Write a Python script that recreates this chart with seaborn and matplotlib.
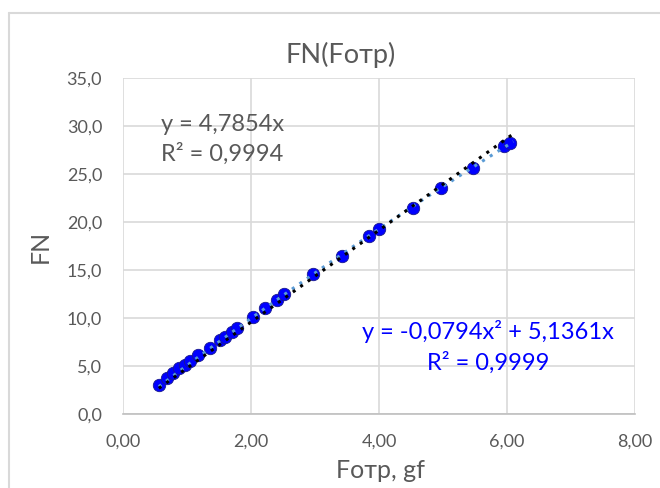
import numpy as np
import pandas as pd
import matplotlib
matplotlib.use("Agg")
import matplotlib.pyplot as plt
import seaborn as sns
from matplotlib.lines import Line2D

# Data
f_otr = [0.56, 0.68, 0.78, 0.88, 0.97, 1.05, 1.17, 1.36, 1.52, 1.59, 1.70, 1.78,
         2.03, 2.22, 2.40, 2.52, 2.97, 3.42, 3.84, 4.00, 4.53, 4.97, 5.47, 5.95, 6.05]
fn = [3.0, 3.7, 4.3, 4.8, 5.1, 5.5, 6.1, 6.9, 7.7, 8.0, 8.5, 9.0,
      10.1, 11.0, 11.9, 12.5, 14.6, 16.5, 18.5, 19.3, 21.5, 23.5, 25.6, 27.9, 28.2]
lin_coef = 4.7854
poly_coefs = [-0.0794, 5.1361]
x_ticks = [0, 2, 4, 6, 8]
x_tick_labels = ["0,00", "2,00", "4,00", "6,00", "8,00"]
y_ticks = [0, 5, 10, 15, 20, 25, 30, 35]
y_tick_labels = ["0,0", "5,0", "10,0", "15,0", "20,0", "25,0", "30,0", "35,0"]

sns.set_theme(style="white")
plt.rcParams['font.family'] = ['Lato', 'DejaVu Sans']

W, H = 660, 488
fig = plt.figure(figsize=(6.6, 4.88), dpi=100)
ax = fig.add_axes([123 / W, 1 - 414 / H, 512 / W, 336 / H])

df = pd.DataFrame({"x": f_otr, "y": fn})
sns.scatterplot(data=df, x="x", y="y", ax=ax, color="#0000FF", s=80,
                edgecolor="#1a1a8c", linewidth=0.6, zorder=3)

xs = np.linspace(min(f_otr), max(f_otr) + 0.05, 100)
trend = pd.DataFrame({"x": xs,
                      "lin": lin_coef * xs,
                      "poly": poly_coefs[0] * xs**2 + poly_coefs[1] * xs})
sns.lineplot(data=trend, x="x", y="poly", ax=ax, color="#5B9BD5",
             linestyle=(0, (1, 2)), linewidth=2.2, zorder=4)
sns.lineplot(data=trend, x="x", y="lin", ax=ax, color="black",
             linestyle=(0, (1, 2)), linewidth=2.2, zorder=5)

ax.set_xlim(0, 8)
ax.set_ylim(0, 35)
ax.set_xticks(x_ticks)
ax.set_xticklabels(x_tick_labels)
ax.set_yticks(y_ticks)
ax.set_yticklabels(y_tick_labels)
ax.tick_params(axis="y", labelsize=13, colors="#595959", length=0, pad=15)
ax.tick_params(axis="x", labelsize=13, colors="#595959", length=0, pad=14)
ax.grid(True, color="#D9D9D9", linewidth=1.2)
ax.set_axisbelow(True)
for side in ["top", "right", "left"]:
    ax.spines[side].set_visible(False)
ax.spines["bottom"].set_color("#BFBFBF")
ax.spines["bottom"].set_linewidth(1.2)

ax.set_xlabel("Fотр, gf", fontsize=18, color="#595959", va="center")
ax.xaxis.set_label_coords((380 - 123) / 512, -(470 - 414) / 336)
ax.set_ylabel("FN", fontsize=18, color="#595959", va="center")
ax.yaxis.set_label_coords(-(123 - 40) / 512, 0.5)
fig.text(341 / W, 1 - 55 / H, "FN(Fотр)", fontsize=19.5, color="#595959",
         ha="center", va="center")

ax.text(0.59, 30.2, "y = 4,7854x", fontsize=17, color="#595959",
        ha="left", va="center")
ax.text(0.59, 27.1, "R² = 0,9994", fontsize=17, color="#595959",
        ha="left", va="center")
ax.text(5.70, 8.55, "y = -0,0794x² + 5,1361x", fontsize=17, color="#0000FF",
        ha="center", va="center")
ax.text(5.70, 5.3, "R² = 0,9999", fontsize=17, color="#0000FF",
        ha="center", va="center")

# chart-area border (left and top edges visible in the reference)
fig.add_artist(Line2D([9 / W, 9 / W], [0, 1 - 13 / H], transform=fig.transFigure,
                      color="#D9D9D9", linewidth=1.5))
fig.add_artist(Line2D([9 / W, 1], [1 - 13 / H, 1 - 13 / H], transform=fig.transFigure,
                      color="#D9D9D9", linewidth=1.5))

fig.savefig("out.png", dpi=100, facecolor="white")
